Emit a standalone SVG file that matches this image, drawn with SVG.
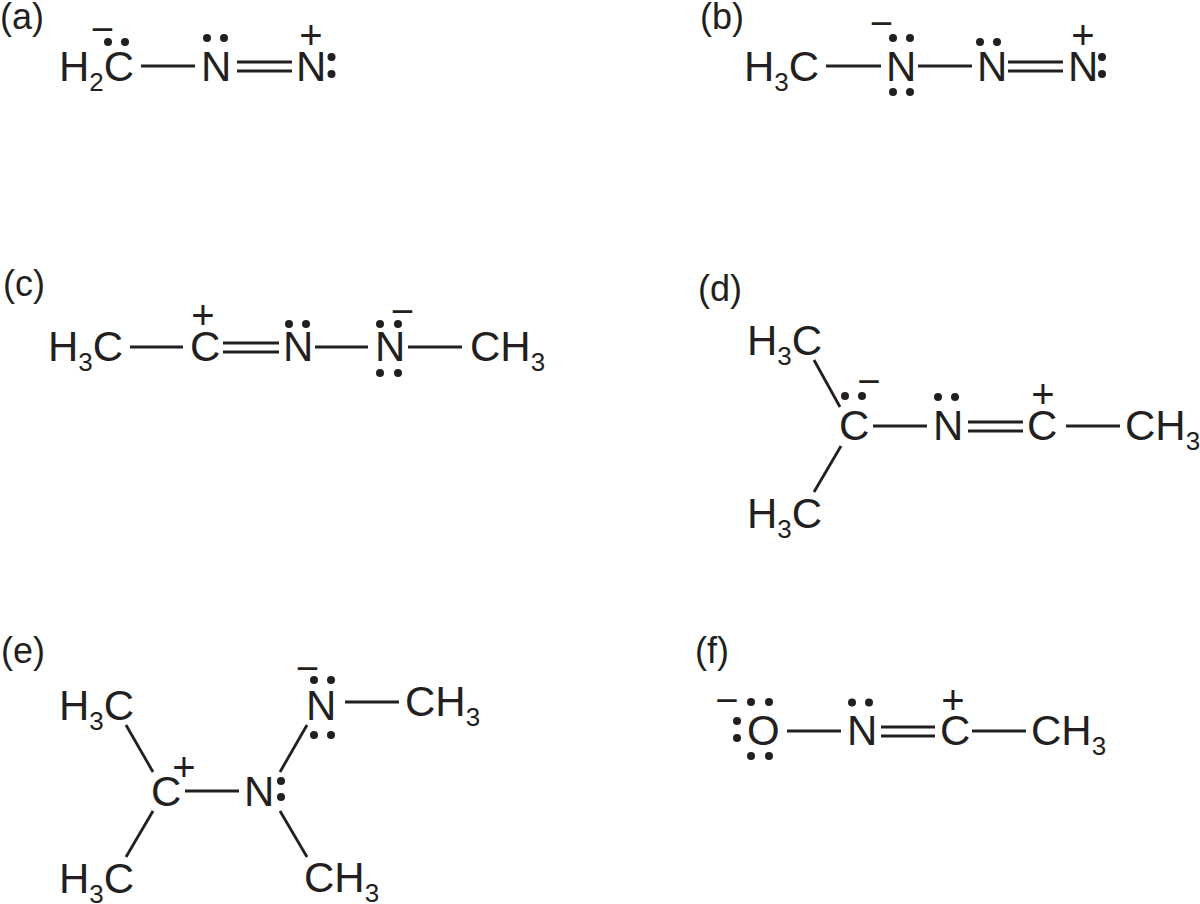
<svg xmlns="http://www.w3.org/2000/svg" width="1200" height="904" viewBox="0 0 1200 904">
<style>
text{font-family:"Liberation Sans",Arial,sans-serif;font-size:42px;fill:#231f20}
.lab{font-size:36px}
.sub{font-size:26px}
.ch{text-anchor:middle;font-size:40px}
circle{fill:#231f20;r:4px}
#connectors line{stroke:#231f20;stroke-width:2.8;fill:none}
</style>
<rect width="1200" height="904" fill="#ffffff"/>
<g id="connectors">
<line x1="141" y1="66" x2="195" y2="66"/><line x1="237" y1="62" x2="292" y2="62"/><line x1="237" y1="71" x2="292" y2="71"/>
<line x1="826" y1="66" x2="881" y2="66"/><line x1="918" y1="66" x2="972" y2="66"/><line x1="1008" y1="62" x2="1063" y2="62"/><line x1="1008" y1="71" x2="1063" y2="71"/>
<line x1="130" y1="347" x2="183" y2="347"/><line x1="223" y1="343" x2="279" y2="343"/><line x1="223" y1="352" x2="279" y2="352"/><line x1="315" y1="347" x2="368" y2="347"/><line x1="408" y1="347" x2="462" y2="347"/>
<line x1="814" y1="360" x2="840" y2="407"/><line x1="841" y1="446" x2="814" y2="492"/><line x1="873" y1="426" x2="927" y2="426"/><line x1="968" y1="422" x2="1023" y2="422"/><line x1="968" y1="431" x2="1023" y2="431"/><line x1="1066" y1="426" x2="1120" y2="426"/>
<line x1="126" y1="725" x2="153" y2="772"/><line x1="153" y1="811" x2="126" y2="857"/><line x1="185" y1="791" x2="239" y2="791"/><line x1="280" y1="772" x2="307" y2="725"/><line x1="280" y1="811" x2="307" y2="857"/><line x1="345" y1="702" x2="399" y2="702"/>
<line x1="787" y1="731" x2="841" y2="731"/><line x1="881" y1="727" x2="935" y2="727"/><line x1="881" y1="736" x2="935" y2="736"/><line x1="972" y1="731" x2="1026" y2="731"/>
</g>
<g id="labels">
<text class="lab" x="0" y="29">(a)</text>
<text class="lab" x="700" y="29">(b)</text>
<text class="lab" x="3" y="296">(c)</text>
<text class="lab" x="698" y="301">(d)</text>
<text class="lab" x="1" y="663">(e)</text>
<text class="lab" x="695" y="663">(f)</text>
</g>
<g id="a-ch2"><text x="59" y="81">H<tspan class="sub" dy="10">2</tspan><tspan dy="-10">C</tspan></text><text class="ch" x="102.500" y="42.500">−</text><circle cx="108" cy="42"/><circle cx="125" cy="42"/></g>
<g id="a-n1"><text x="201" y="81">N</text><circle cx="207" cy="38"/><circle cx="224" cy="38"/></g>
<g id="a-n2"><text x="296" y="81">N</text><text class="ch" x="311" y="49">+</text><circle cx="331.500" cy="57"/><circle cx="331.500" cy="74"/></g>
<g id="b-ch3"><text x="744" y="81">H<tspan class="sub" dy="10">3</tspan><tspan dy="-10">C</tspan></text></g>
<g id="b-n1"><text x="886" y="81">N</text><text class="ch" x="881.500" y="36.500">−</text><circle cx="893" cy="38"/><circle cx="910" cy="38"/><circle cx="893" cy="92"/><circle cx="910" cy="92"/></g>
<g id="b-n2"><text x="977" y="81">N</text><circle cx="980" cy="42"/><circle cx="997" cy="42"/></g>
<g id="b-n3"><text x="1068" y="81">N</text><text class="ch" x="1083" y="49">+</text><circle cx="1102" cy="57"/><circle cx="1102" cy="74"/></g>
<g id="c-ch3a"><text x="48" y="361">H<tspan class="sub" dy="10">3</tspan><tspan dy="-10">C</tspan></text></g>
<g id="c-c"><text x="190" y="361">C</text><text class="ch" x="203" y="329">+</text></g>
<g id="c-n1"><text x="283" y="361">N</text><circle cx="289" cy="324"/><circle cx="306" cy="324"/></g>
<g id="c-n2"><text x="375" y="361">N</text><text class="ch" x="402.500" y="324.500">−</text><circle cx="380" cy="324"/><circle cx="398" cy="324"/><circle cx="380" cy="373"/><circle cx="398" cy="373"/></g>
<g id="c-ch3b"><text x="470" y="361">CH<tspan class="sub" dy="10">3</tspan></text></g>
<g id="d-ch3a"><text x="747" y="355">H<tspan class="sub" dy="10">3</tspan><tspan dy="-10">C</tspan></text></g>
<g id="d-ch3b"><text x="747" y="528">H<tspan class="sub" dy="10">3</tspan><tspan dy="-10">C</tspan></text></g>
<g id="d-c1"><text x="839" y="440">C</text><text class="ch" x="869" y="394.500">−</text><circle cx="845" cy="396"/><circle cx="862" cy="396"/></g>
<g id="d-n"><text x="933" y="440">N</text><circle cx="938" cy="397"/><circle cx="955" cy="397"/></g>
<g id="d-c2"><text x="1027" y="440">C</text><text class="ch" x="1043" y="408">+</text></g>
<g id="d-ch3c"><text x="1125" y="440">CH<tspan class="sub" dy="10">3</tspan></text></g>
<g id="e-ch3a"><text x="59" y="720">H<tspan class="sub" dy="10">3</tspan><tspan dy="-10">C</tspan></text></g>
<g id="e-ch3b"><text x="59" y="893">H<tspan class="sub" dy="10">3</tspan><tspan dy="-10">C</tspan></text></g>
<g id="e-c"><text x="151" y="806">C</text><text class="ch" x="184" y="781">+</text></g>
<g id="e-n1"><text x="244" y="806">N</text><circle cx="281" cy="781"/><circle cx="281" cy="797"/></g>
<g id="e-n2"><text x="306" y="720">N</text><text class="ch" x="307.500" y="681.500">−</text><circle cx="314" cy="680"/><circle cx="331" cy="680"/><circle cx="314" cy="735"/><circle cx="331" cy="735"/></g>
<g id="e-ch3c"><text x="405" y="716">CH<tspan class="sub" dy="10">3</tspan></text></g>
<g id="e-ch3d"><text x="304" y="892">CH<tspan class="sub" dy="10">3</tspan></text></g>
<g id="f-o"><text x="747" y="745">O</text><text class="ch" x="727" y="713.500">−</text><circle cx="751" cy="702"/><circle cx="769" cy="702"/><circle cx="737" cy="721"/><circle cx="737" cy="738"/><circle cx="751" cy="756"/><circle cx="769" cy="756"/></g>
<g id="f-n"><text x="847" y="745">N</text><circle cx="852" cy="702.500"/><circle cx="869" cy="702.500"/></g>
<g id="f-c"><text x="940" y="745">C</text><text class="ch" x="953" y="714">+</text></g>
<g id="f-ch3"><text x="1031" y="745">CH<tspan class="sub" dy="10">3</tspan></text></g>
</svg>
